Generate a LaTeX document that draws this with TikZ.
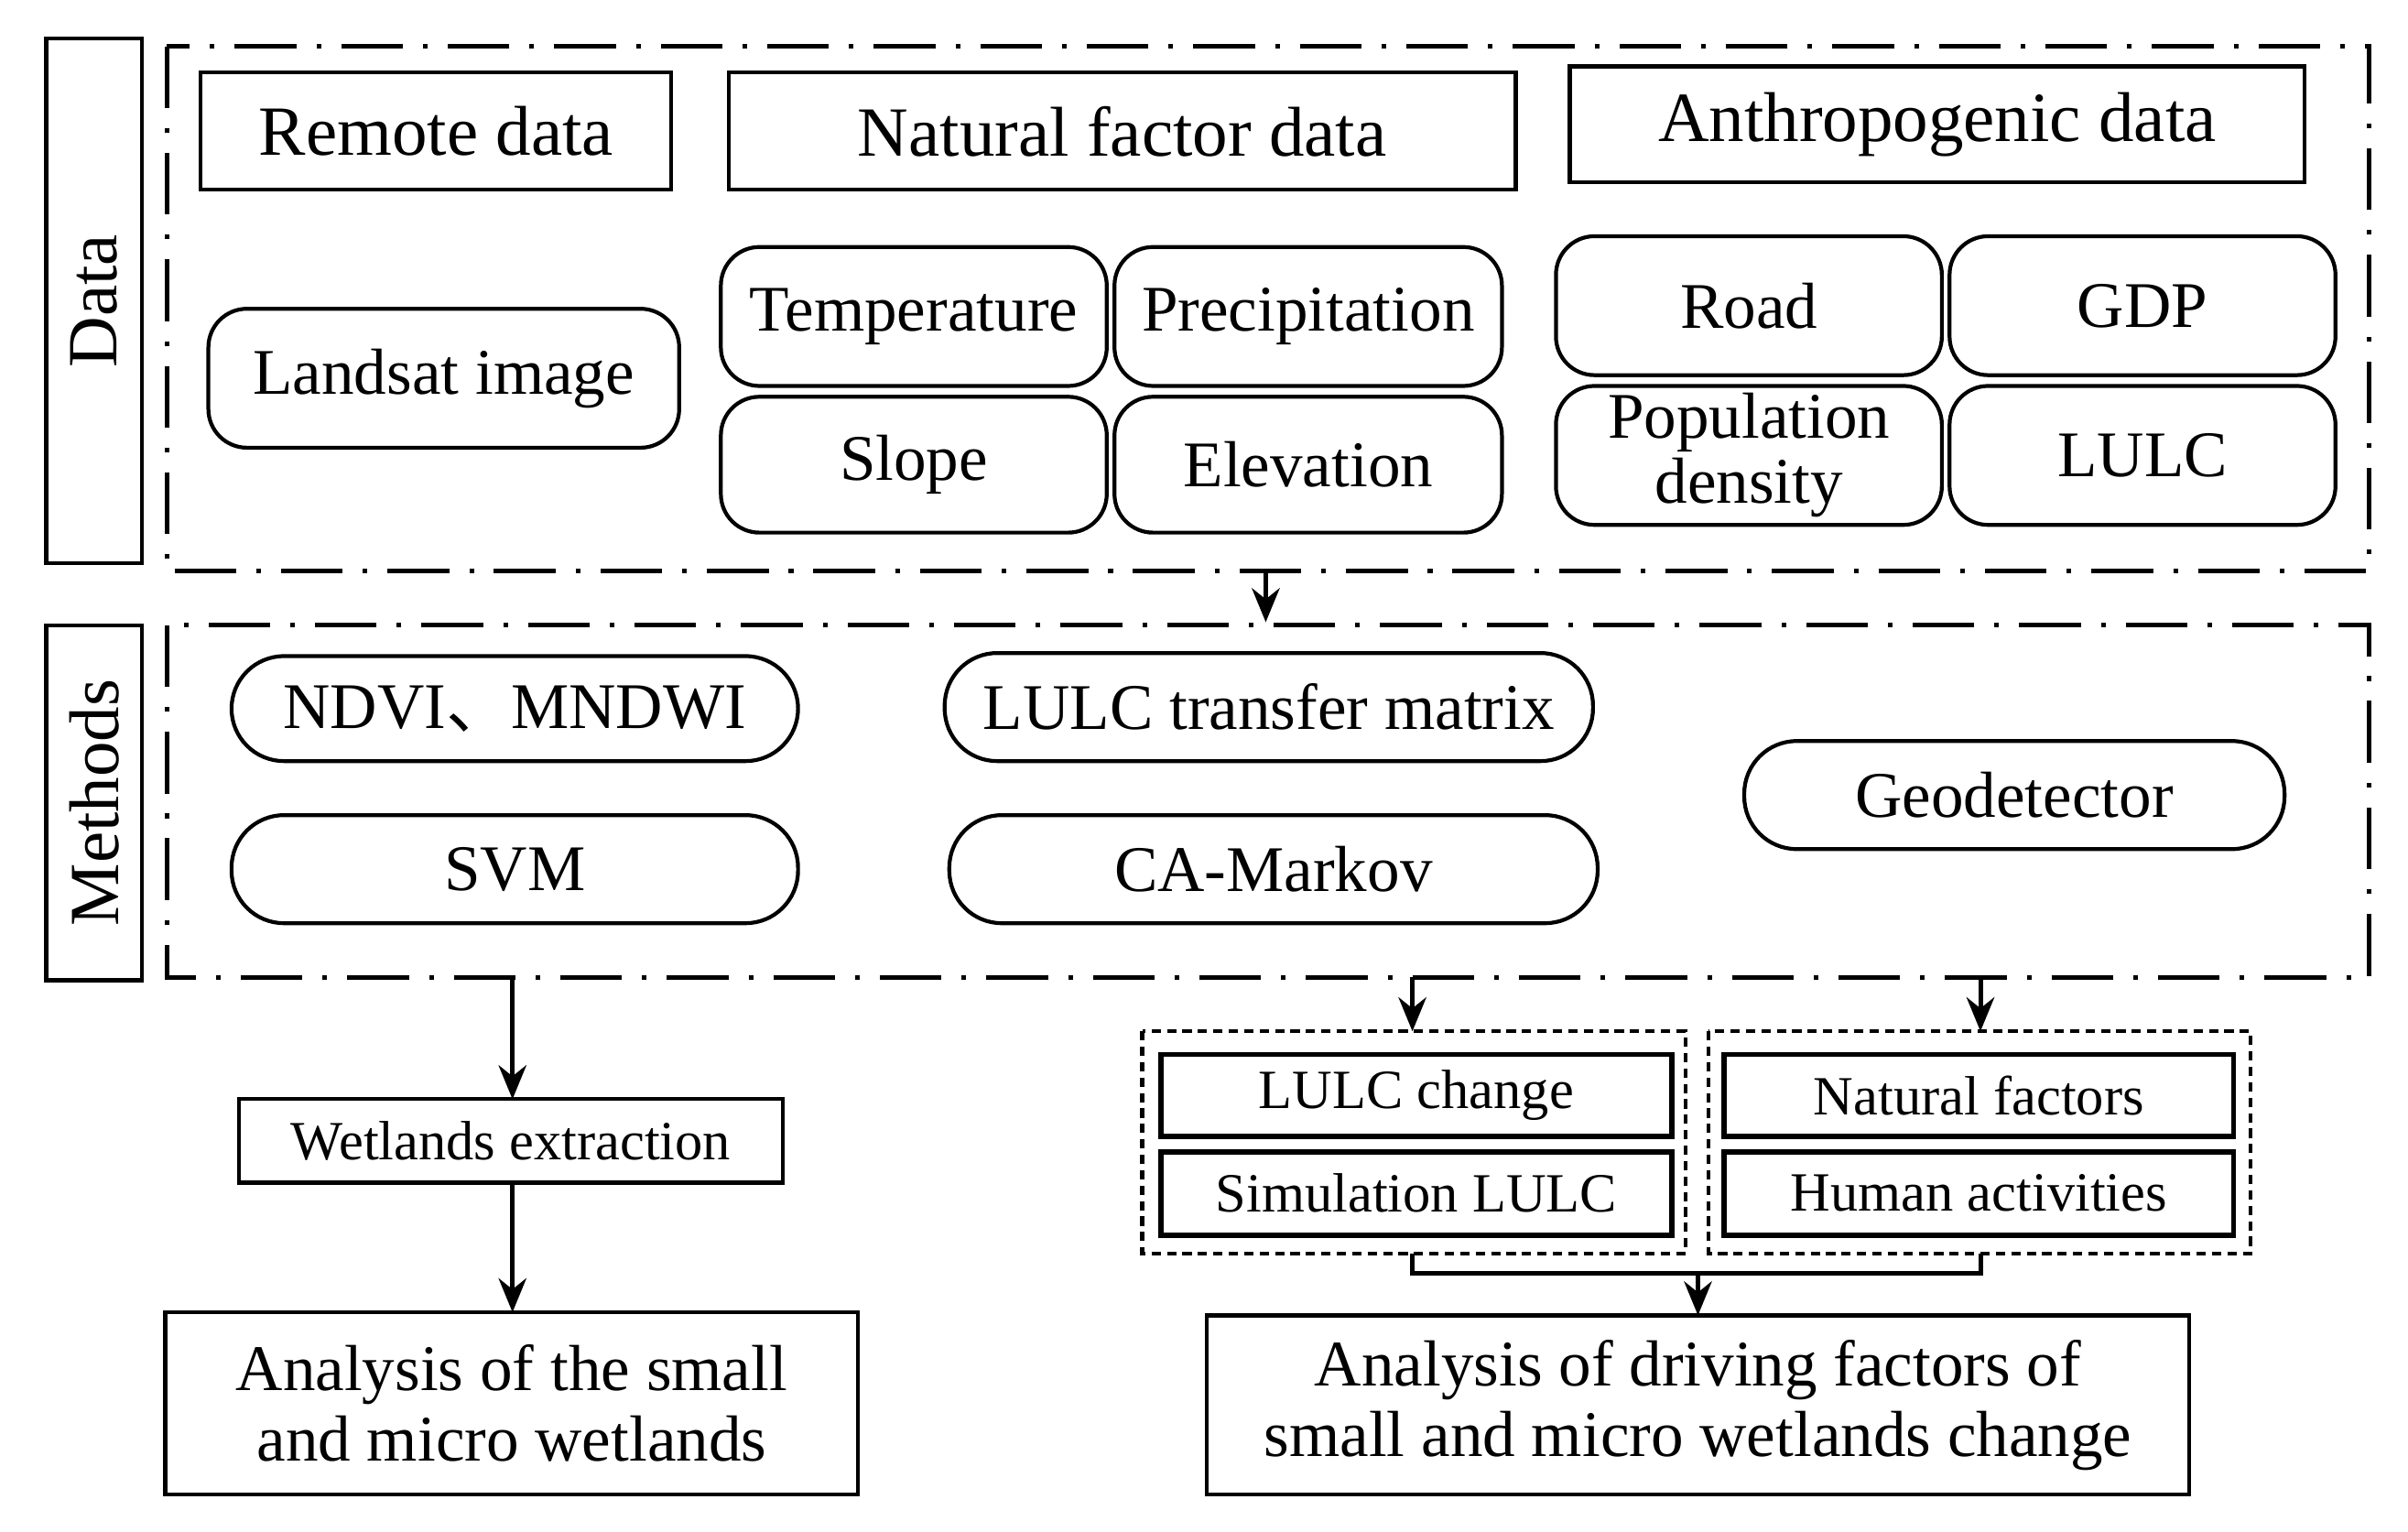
\documentclass[tikz,border=0pt]{standalone}
\usepackage{fontspec}
\setmainfont{Liberation Serif}
\newfontfamily\cjk{Noto Sans CJK SC}
\usetikzlibrary{arrows.meta}
\begin{document}
\begin{tikzpicture}[x=0.1mm,y=-0.1mm,
 lw/.style={line width=0.25mm},
 frame/.style={line width=0.3mm,dash pattern=on 4mm off 1.3mm on 0.3mm off 1.3mm},
 rnd/.style={lw,draw,rounded corners=2.5mm},
 pill/.style={lw,draw,rounded corners=3.4mm},
 grp/.style={line width=0.25mm,dash pattern=on 0.6mm off 0.4mm},
 arr/.style={line width=0.3mm,-{Stealth[length=2.2mm,width=1.8mm]}},
 big/.style={font=\fontsize{13}{15}\selectfont},
 mid/.style={font=\fontsize{12}{13}\selectfont},
 sm/.style={font=\fontsize{10.2}{11}\selectfont}]
\useasboundingbox (0,0) rectangle (1560,992);
\newcommand{\bx}[6]{\draw[#1] (#2,#3) rectangle (#4,#5) node[pos=.5,#6]}
% side labels
\draw[lw] (30,25) rectangle (92,365) node[pos=.5,rotate=90,big] (dl) {Data};
\draw[lw] (30,405) rectangle (92,635) node[pos=.5,rotate=90,big] (ml) {Methods};
\draw[frame] (108,30) rectangle (1535,370);
\draw[frame] (108,405) rectangle (1535,633);
% data row
\bx{lw}{130}{47}{435}{123}{big}(rd){Remote data};
\bx{lw}{472}{47}{982}{123}{big}(nf){Natural factor data};
\bx{lw}{1017}{43}{1493}{118}{big}(ad){Anthropogenic data};
\bx{rnd}{135}{200}{440}{290}{mid}(ls){Landsat image};
\bx{rnd}{467}{160}{717}{250}{mid}(te){Temperature};
\bx{rnd}{722}{160}{973}{250}{mid}(pr){Precipitation};
\bx{rnd}{467}{257}{717}{345}{mid}(sl){Slope};
\bx{rnd}{722}{257}{973}{345}{mid}(el){Elevation};
\bx{rnd}{1008}{153}{1258}{243}{mid}(ro){Road};
\bx{rnd}{1263}{153}{1513}{243}{mid}(gd){GDP};
\bx{rnd}{1008}{250}{1258}{340}{mid,align=center,inner sep=0pt}(po){Population\\[-1pt]density};
\bx{rnd}{1263}{250}{1513}{340}{mid}(lu){LULC};
\coordinate (a1) at (820,370); \coordinate (a2) at (820,403);
\draw[arr] (a1) -- (a2);
% methods
\bx{pill}{150}{425}{517}{493}{mid}(nd){NDVI{\cjk 、}MNDWI};
\bx{pill}{150}{528}{517}{598}{mid}(sv){SVM};
\bx{pill}{612}{423}{1032}{493}{mid}(tm){LULC transfer matrix};
\bx{pill}{615}{528}{1035}{598}{mid}(ca){CA-Markov};
\bx{pill}{1130}{480}{1480}{550}{mid}(ge){Geodetector};
% outputs
\bx{lw}{155}{712}{507}{766}{sm}(we){Wetlands extraction};
\bx{lw}{107}{850}{556}{968}{mid,align=center}(an){Analysis of the small\\and micro wetlands};
\coordinate (b1) at (332,633);
\draw[arr] (b1) -- (332,712);
\draw[arr] (332,766) -- (332,850);
\draw[grp] (740,668) rectangle (1092,812);
\draw[grp] (1107,668) rectangle (1458,812);
\coordinate (c1) at (915,633); \coordinate (c2) at (1283,633);
\draw[arr] (c1) -- (915,668);
\draw[arr] (c2) -- (1283,668);
\bx{line width=0.35mm}{752}{683}{1083}{736}{sm}(lc){LULC change};
\bx{line width=0.35mm}{752}{746}{1083}{800}{sm}(si){Simulation LULC};
\bx{line width=0.35mm}{1117}{683}{1447}{736}{sm}(nfa){Natural factors};
\bx{line width=0.35mm}{1117}{746}{1447}{800}{sm}(ha){Human activities};
\bx{lw}{782}{852}{1418}{968}{mid,align=center}(dr){Analysis of driving factors of\\small and micro wetlands change};
\draw[line width=0.3mm] (915,812) -- (915,825) -- (1283,825) -- (1283,812);
\draw[arr] (1100,825) -- (1100,852);
\end{tikzpicture}
\end{document}
